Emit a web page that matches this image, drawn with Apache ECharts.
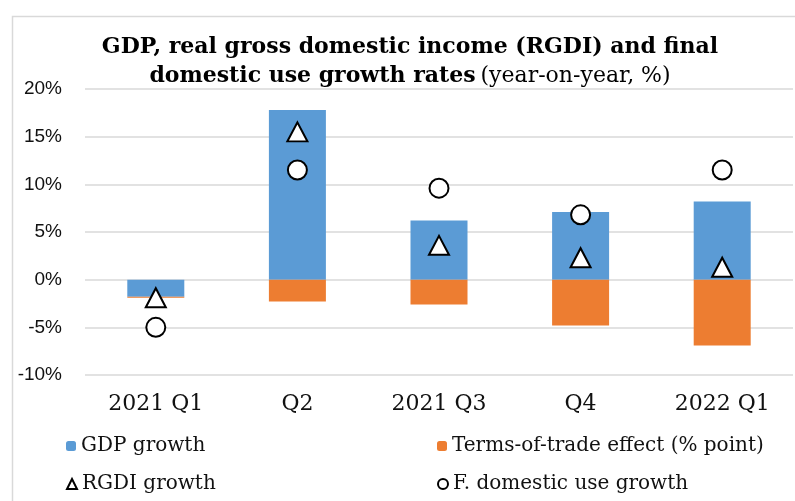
<!DOCTYPE html>
<html>
<head>
<meta charset="utf-8">
<script src="https://cdn.jsdelivr.net/npm/echarts@6/dist/echarts.min.js"></script>
<style>
  html, body { margin: 0; padding: 0; background: #ffffff; }
  #chart { width: 795px; height: 501px; }
</style>
</head>
<body>
<div id="chart"></div>
<script>
// Quarterly growth rates, year-on-year (%)
const categories = ['2021 Q1', 'Q2', '2021 Q3', 'Q4', '2022 Q1'];
const gdpGrowth = [-1.8, 17.8, 6.2, 7.1, 8.2];
const termsOfTrade = [-0.1, -2.3, -2.6, -4.8, -6.9];
const rgdiGrowth = [-1.9, 15.5, 3.6, 2.3, 1.3];
const domesticUseGrowth = [-5.0, 11.5, 9.6, 6.8, 11.5];

const serif = '"DejaVu Serif", "Liberation Serif", serif';
const sans = '"Liberation Sans", Arial, sans-serif';

const chart = echarts.init(document.getElementById('chart'), null, { renderer: 'canvas' });

const legendText = { fontFamily: serif, fontSize: 20, color: '#111111', lineHeight: 24 };
function legendAt(name, left, top) {
  return {
    data: [name], left: left, top: top, orient: 'horizontal',
    itemWidth: 10, itemHeight: 10, itemGap: 0, padding: 0,
    textStyle: legendText, selectedMode: false
  };
}

chart.setOption({
  animation: false,
  backgroundColor: '#ffffff',
  graphic: [{
    type: 'rect', left: 10, top: 14, silent: true,
    shape: { width: 800, height: 500 },
    style: { fill: 'none', stroke: '#d9d9d9', lineWidth: 1.5 }
  }],
  title: {
    left: 410, top: 33, textAlign: 'center', padding: 0,
    text: '{b|GDP, real gross domestic income (RGDI) and final}\n{b|domestic use growth rates} {n|(year-on-year, %)}',
    textStyle: {
      rich: {
        b: { fontFamily: serif, fontWeight: 'bold', fontSize: 22, color: '#000000', lineHeight: 29 },
        n: { fontFamily: serif, fontWeight: 'normal', fontSize: 22, color: '#000000', lineHeight: 29 }
      }
    }
  },
  legend: [
    legendAt('GDP growth', 66, 434),
    legendAt('Terms-of-trade effect (% point)', 437, 434),
    legendAt('RGDI growth', 66, 472),
    legendAt('F. domestic use growth', 437, 472)
  ],
  grid: { left: 85, right: 2, top: 89, bottom: 126, containLabel: false },
  xAxis: {
    type: 'category', data: categories,
    axisLine: { show: false }, axisTick: { show: false },
    axisLabel: { fontFamily: serif, fontSize: 22, color: '#111111', margin: 18 },
    splitLine: { show: false }
  },
  yAxis: {
    type: 'value', min: -10, max: 20, interval: 5,
    axisLine: { show: false }, axisTick: { show: false },
    axisLabel: { formatter: '{value}%', fontFamily: sans, fontSize: 19, color: '#111111', margin: 23 },
    splitLine: { lineStyle: { color: '#d9d9d9', width: 1.5 } }
  },
  series: [
    {
      name: 'GDP growth', type: 'bar', stack: 'total', data: gdpGrowth,
      barWidth: 57, itemStyle: { color: '#5b9bd5' }
    },
    {
      name: 'Terms-of-trade effect (% point)', type: 'bar', stack: 'total', data: termsOfTrade,
      barWidth: 57, itemStyle: { color: '#ed7d31' }
    },
    {
      name: 'RGDI growth', type: 'scatter', data: rgdiGrowth, z: 5,
      symbol: 'triangle', symbolSize: [20, 19],
      itemStyle: { color: '#ffffff', borderColor: '#000000', borderWidth: 2, opacity: 1 }
    },
    {
      name: 'F. domestic use growth', type: 'scatter', data: domesticUseGrowth, z: 5,
      symbol: 'circle', symbolSize: 19,
      itemStyle: { color: '#ffffff', borderColor: '#000000', borderWidth: 2, opacity: 1 }
    }
  ]
});
</script>
</body>
</html>
